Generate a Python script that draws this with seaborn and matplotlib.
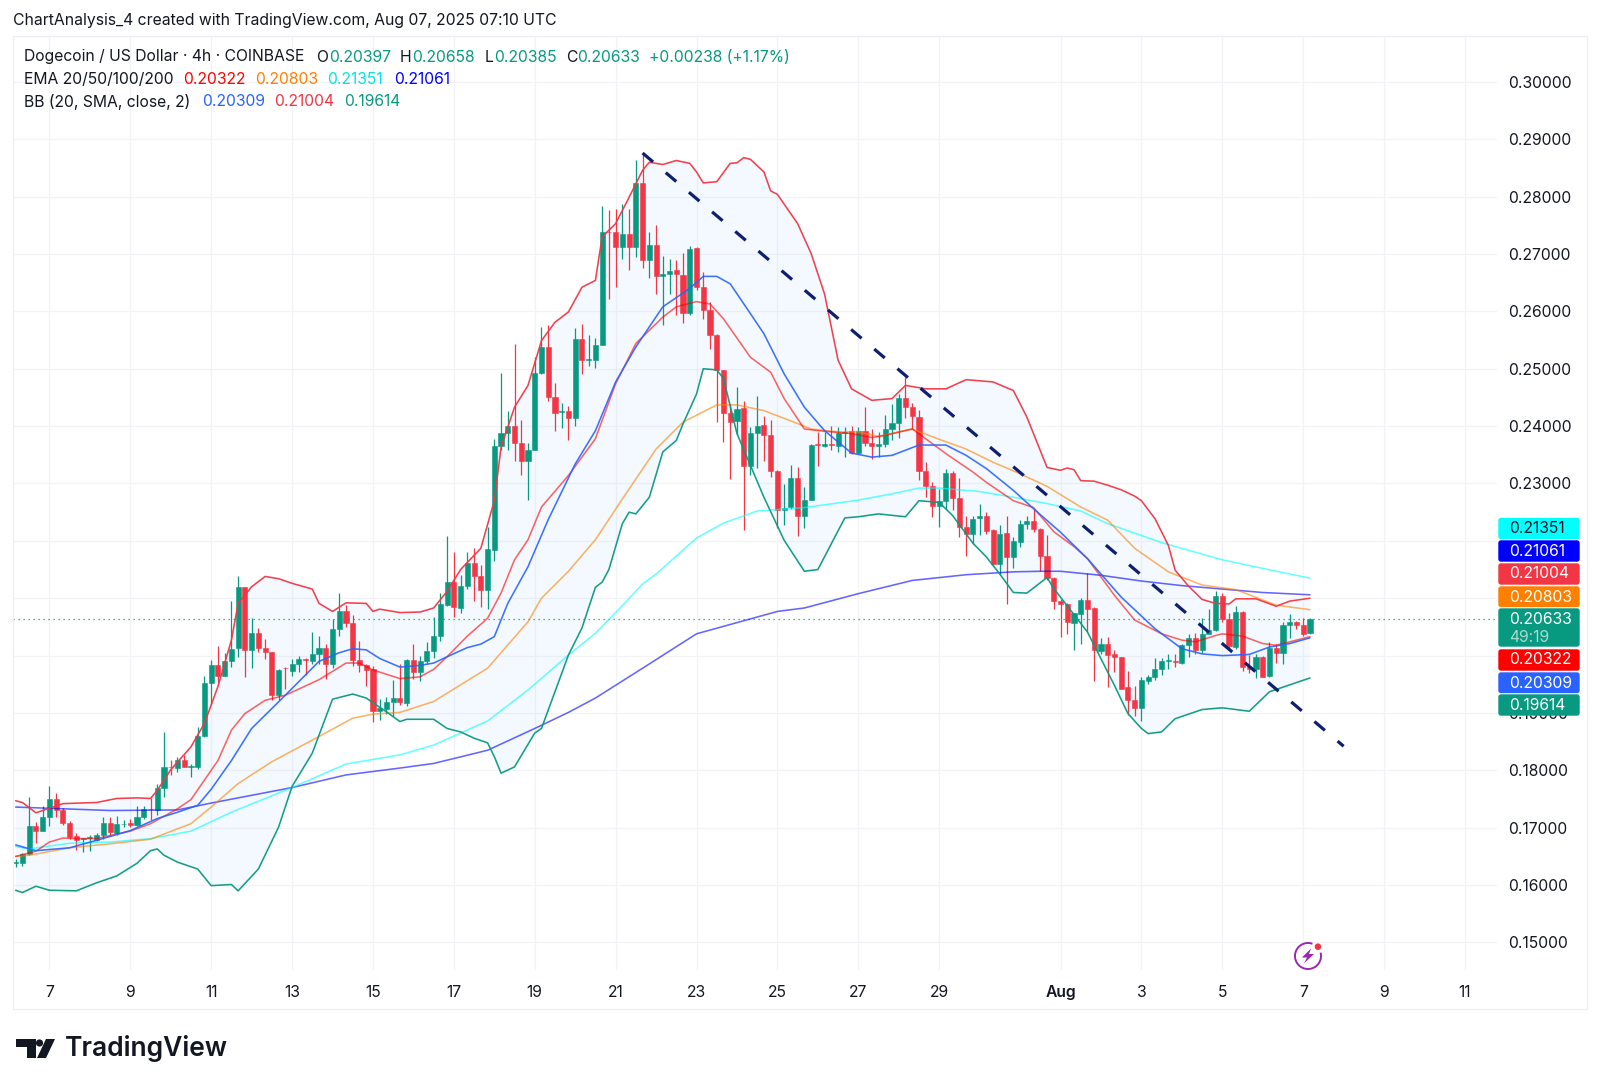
import matplotlib
matplotlib.use('Agg')
import matplotlib.pyplot as plt
from matplotlib.patches import Rectangle, FancyBboxPatch, Circle, Arc, Polygon
import numpy as np
import pandas as pd
import seaborn as sns

# 4h candles, Jul 6 2025 onward
opens = [
    .1638, .1638, .1655, .1703, .1695, .1719, .1750, .1731, .1709, .1685,
    .1680, .1682, .1679, .1687, .1709, .1691, .1706, .1708, .1704, .1719,
    .1733, .1731, .1770, .1806, .1804, .1818, .1806, .1805, .1859, .1952,
    .1984, .1965, .1991, .2013, .2119, .2010, .2039, .2013, .2006, .1931,
    .1979, .1974, .1986, .1994, .1990, .2002, .2013, .1985, .2047, .2078,
    .2056, .1992, .1984, .1976, .1903, .1907, .1920, .1926, .1918, .1992,
    .1971, .1991, .2008, .2034, .2088, .2129, .2083, .2122, .2161, .2139,
    .2115, .2184, .2365, .2388, .2401, .2370, .2340, .2358, .2493, .2538,
    .2450, .2424, .2427, .2414, .2552, .2515, .2516, .2542, .2739, .2738,
    .2712, .2735, .2712, .2823, .2689, .2715, .2662, .2666, .2672, .2664,
    .2597, .2710, .2642, .2602, .2558, .2497, .2423, .2409, .2431, .2330,
    .2388, .2402, .2384, .2321, .2253, .2259, .2310, .2243, .2272, .2368,
    .2366, .2369, .2365, .2388, .2391, .2353, .2392, .2370, .2365, .2368,
    .2395, .2406, .2449, .2433, .2416, .2321, .2295, .2260, .2270, .2318,
    .2275, .2225, .2212, .2240, .2243, .2219, .2159, .2214, .2172, .2198,
    .2229, .2235, .2221, .2174, .2135, .2096, .2090, .2057, .2073, .2097,
    .2083, .2008, .2021, .2002, .1997, .1945, .1922, .1909, .1956, .1963,
    .1977, .1990, .1991, .1987, .2018, .2031, .2009, .2037, .2044, .2104,
    .2063, .2015, .2076, .1981, .1976, .1998, .1964, .2013, .2005, .2053,
    .2059, .2053, .20397]
closes = [
    .1641, .1655, .1703, .1695, .1719, .1750, .1731, .1709, .1683, .1679,
    .1682, .1684, .1688, .1709, .1692, .1706, .1707, .1704, .1719, .1732,
    .1732, .1770, .1805, .1805, .1818, .1805, .1808, .1859, .1952, .1984,
    .1965, .1991, .2012, .2119, .2010, .2039, .2013, .2006, .1931, .1975,
    .1978, .1986, .1994, .1992, .2002, .2013, .1985, .2047, .2078, .2056,
    .1992, .1984, .1975, .1903, .1908, .1919, .1926, .1919, .1992, .1972,
    .1991, .2008, .2034, .2090, .2128, .2084, .2122, .2162, .2139, .2115,
    .2186, .2365, .2388, .2401, .2370, .2340, .2358, .2493, .2538, .2450,
    .2423, .2427, .2414, .2552, .2515, .2517, .2541, .2738, .2738, .2712,
    .2735, .2712, .2824, .2689, .2715, .2662, .2665, .2670, .2665, .2597,
    .2709, .2642, .2602, .2558, .2497, .2423, .2407, .2430, .2330, .2388,
    .2401, .2384, .2321, .2253, .2257, .2310, .2243, .2272, .2367, .2367,
    .2369, .2367, .2388, .2390, .2353, .2392, .2370, .2365, .2369, .2395,
    .2406, .2449, .2433, .2417, .2321, .2295, .2260, .2270, .2318, .2275,
    .2225, .2212, .2238, .2243, .2218, .2159, .2212, .2172, .2199, .2230,
    .2235, .2221, .2174, .2135, .2096, .2090, .2059, .2074, .2097, .2082,
    .2009, .2021, .2001, .1997, .1942, .1922, .1909, .1957, .1963, .1977,
    .1990, .1992, .1989, .2018, .2031, .2009, .2038, .2045, .2104, .2063,
    .2017, .2076, .1981, .1977, .1998, .1963, .2013, .2005, .2053, .2058,
    .2053, .2038, .20633]
highs = [
    .1645, .1656, .1753, .1710, .1738, .1772, .1760, .1734, .1711, .1690,
    .1682, .1687, .1690, .1719, .1719, .1720, .1713, .1716, .1737, .1738,
    .1751, .1777, .1866, .1818, .1824, .1827, .1811, .1875, .1965, .1992,
    .2016, .2005, .2095, .2138, .2120, .2066, .2048, .2029, .2007, .1976,
    .1980, .1994, .1999, .1995, .2042, .2035, .2020, .2064, .2109, .2088,
    .2071, .2026, .1985, .1982, .1924, .1927, .1957, .1985, .1994, .2021,
    .2000, .2023, .2068, .2109, .2208, .2181, .2141, .2180, .2187, .2158,
    .2225, .2378, .2492, .2426, .2544, .2410, .2370, .2520, .2573, .2576,
    .2475, .2440, .2435, .2571, .2578, .2558, .2554, .2783, .2776, .2779,
    .2787, .2779, .2863, .2876, .2738, .2751, .2696, .2692, .2690, .2702,
    .2714, .2712, .2669, .2616, .2560, .2497, .2439, .2468, .2443, .2398,
    .2452, .2417, .2410, .2323, .2299, .2333, .2328, .2294, .2369, .2390,
    .2390, .2401, .2398, .2398, .2401, .2399, .2434, .2395, .2390, .2419,
    .2438, .2456, .2485, .2441, .2428, .2338, .2302, .2291, .2326, .2322,
    .2310, .2244, .2244, .2265, .2251, .2220, .2228, .2244, .2206, .2237,
    .2244, .2256, .2222, .2211, .2137, .2099, .2091, .2074, .2101, .2144,
    .2085, .2030, .2033, .2009, .1998, .1973, .1947, .1963, .1967, .1995,
    .1995, .2002, .2003, .2020, .2037, .2040, .2065, .2082, .2113, .2109,
    .2074, .2087, .2077, .2001, .2002, .1999, .2024, .2021, .2059, .2072,
    .2061, .2066, .20658]
lows = [
    .1632, .1633, .1652, .1674, .1694, .1703, .1719, .1705, .1681, .1662,
    .1658, .1660, .1676, .1681, .1685, .1687, .1701, .1701, .1703, .1716,
    .1713, .1722, .1753, .1792, .1797, .1805, .1789, .1803, .1858, .1914,
    .1950, .1965, .1981, .1997, .1962, .1979, .2007, .1994, .1923, .1923,
    .1942, .1965, .1972, .1966, .1985, .1985, .1960, .1978, .2034, .2049,
    .1982, .1972, .1947, .1885, .1887, .1899, .1895, .1914, .1913, .1960,
    .1956, .1985, .1995, .2026, .2087, .2067, .2075, .2116, .2095, .2084,
    .2081, .2165, .2358, .2359, .2340, .2315, .2272, .2358, .2491, .2444,
    .2392, .2397, .2376, .2401, .2491, .2504, .2502, .2541, .2622, .2642,
    .2692, .2673, .2694, .2676, .2658, .2630, .2576, .2631, .2593, .2580,
    .2593, .2637, .2587, .2535, .2407, .2372, .2308, .2387, .2219, .2314,
    .2327, .2340, .2311, .2223, .2227, .2256, .2208, .2222, .2272, .2330,
    .2363, .2358, .2355, .2346, .2352, .2352, .2365, .2343, .2347, .2363,
    .2376, .2380, .2415, .2395, .2306, .2276, .2242, .2224, .2256, .2253,
    .2206, .2173, .2194, .2211, .2212, .2157, .2142, .2090, .2153, .2190,
    .2221, .2215, .2147, .2131, .2081, .2033, .2038, .2009, .2020, .2041,
    .1956, .2002, .1945, .1972, .1941, .1896, .1894, .1886, .1951, .1957,
    .1967, .1977, .1980, .1985, .1998, .2003, .2004, .2037, .2043, .2059,
    .2012, .2012, .1973, .1970, .1961, .1962, .1963, .1987, .1986, .2031,
    .2046, .2035, .20385]

# indicator lines, read at the candle numbers given in the *_x lists
ema200_x = [0, 14, 24, 29, 41, 49, 57, 62, 70, 77, 82, 86, 93, 101, 113, 117, 125, 133, 141, 148,
            152, 155, 161, 167, 173, 179, 185, 192]
ema200 = [.1736, .1730, .1731, .1743, .1770, .1792, .1804, .1812, .1835, .1873, .1901, .1926, .1978, .2038, .2077,
          .2083, .2108, .2131, .2141, .2146, .2147, .2147, .2140, .2130, .2122, .2116, .2110, .2106]
ema100_x = [0, 2, 8, 14, 20, 26, 32, 41, 49, 57, 62, 70, 76, 82, 86, 90, 93, 95, 101, 105,
            110, 117, 125, 130, 134, 137, 143, 148, 153, 158, 162, 170, 179, 185, 192]
ema100 = [.1667, .1663, .1673, .1675, .1681, .1694, .1727, .1770, .1811, .1827, .1844, .1886, .1940, .2001, .2039,
          .2087, .2125, .2142, .2205, .2231, .2252, .2258, .2271, .2282, .2292, .2292, .2286, .2276, .2265, .2252,
          .2230, .2197, .2167, .2152, .2135]
ema50_x = [0, 2, 8, 14, 20, 26, 29, 33, 38, 45, 50, 53, 57, 62, 70, 76, 78, 82, 86, 90,
           95, 99, 104, 107, 111, 115, 118, 122, 125, 128, 131, 133, 137, 141, 145, 149, 153, 158, 162, 166,
           171, 176, 181, 187, 192]
ema50 = [.1650, .1652, .1665, .1672, .1680, .1707, .1736, .1777, .1815, .1859, .1891, .1898, .1901, .1920, .1978,
         .2059, .2100, .2147, .2202, .2273, .2360, .2407, .2437, .2437, .2427, .2409, .2395, .2390, .2390, .2382,
         .2390, .2395, .2377, .2360, .2337, .2317, .2295, .2259, .2236, .2187, .2146, .2123, .2115, .2088, .2080]
ema20_x = [0, 3, 5, 7, 9, 12, 17, 20, 24, 26, 28, 30, 32, 34, 37, 40, 45, 49, 51, 53,
           57, 60, 62, 64, 67, 70, 72, 74, 76, 78, 82, 86, 89, 92, 96, 98, 101, 103, 105, 109,
           112, 114, 117, 120, 124, 127, 129, 133, 135, 138, 142, 144, 148, 151, 154, 157, 159, 163, 166, 170,
           173, 175, 178, 179, 182, 185, 187, 192]
ema20 = [.1650, .1659, .1675, .1682, .1681, .1681, .1694, .1707, .1733, .1749, .1783, .1817, .1870, .1899, .1922,
         .1931, .1958, .1987, .1987, .1975, .1960, .1963, .1976, .1998, .2034, .2065, .2109, .2167, .2202, .2259,
         .2314, .2378, .2474, .2544, .2590, .2608, .2617, .2613, .2587, .2520, .2494, .2448, .2395, .2391, .2387,
         .2380, .2384, .2395, .2378, .2352, .2320, .2302, .2270, .2258, .2216, .2190, .2169, .2105, .2062, .2038,
         .2027, .2024, .2035, .2038, .2034, .2021, .2018, .2033]
bb_mid_x = [0, 3, 8, 12, 17, 21, 24, 27, 29, 32, 35, 40, 45, 48, 50, 52, 54, 57, 60, 62,
            64, 67, 69, 71, 73, 76, 79, 83, 86, 89, 92, 96, 100, 102, 104, 106, 109, 111, 114, 117,
            120, 124, 127, 130, 134, 138, 141, 144, 148, 151, 155, 159, 164, 169, 173, 176, 179, 183, 186, 189, 192]
bb_mid = [.1670, .1660, .1665, .1678, .1695, .1716, .1727, .1739, .1767, .1817, .1873, .1931, .1990, .2005, .2012,
          .2010, .1995, .1980, .1983, .1987, .1998, .2014, .2020, .2033, .2091, .2155, .2237, .2334, .2392, .2477,
          .2538, .2608, .2640, .2661, .2661, .2648, .2596, .2561, .2491, .2433, .2392, .2353, .2346, .2349, .2367,
          .2367, .2349, .2326, .2288, .2256, .2215, .2169, .2102, .2047, .2012, .2003, .2000, .2002, .2015, .2021, .2031]
bb_up_x = [0, 1, 3, 4, 7, 12, 15, 18, 20, 21, 22, 23, 26, 28, 30, 32, 33, 35, 37, 39,
           41, 44, 45, 47, 49, 52, 53, 54, 57, 60, 62, 64, 66, 69, 71, 72, 74, 76, 78, 80,
           82, 84, 86, 87, 89, 91, 93, 94, 96, 98, 100, 101, 102, 104, 106, 107, 108, 109, 111, 112,
           113, 116, 118, 120, 122, 124, 127, 130, 132, 135, 138, 141, 145, 148, 150, 153, 155, 156, 157, 158,
           160, 162, 164, 166, 167, 169, 171, 172, 174, 176, 178, 180, 181, 184, 187, 189, 192]
bb_up = [.1747, .1744, .1726, .1730, .1742, .1744, .1751, .1752, .1751, .1765, .1783, .1801, .1841, .1882, .1946,
         .2027, .2091, .2120, .2138, .2134, .2126, .2116, .2091, .2077, .2092, .2091, .2077, .2081, .2075, .2076,
         .2083, .2112, .2150, .2187, .2270, .2363, .2433, .2471, .2549, .2581, .2599, .2642, .2654, .2730, .2753,
         .2799, .2846, .2860, .2856, .2863, .2858, .2843, .2824, .2826, .2858, .2859, .2868, .2865, .2843, .2810,
         .2804, .2753, .2701, .2630, .2515, .2465, .2445, .2448, .2471, .2465, .2465, .2481, .2477, .2462, .2416,
         .2328, .2323, .2327, .2324, .2305, .2304, .2297, .2289, .2278, .2270, .2239, .2192, .2149, .2121, .2098,
         .2091, .2090, .2099, .2099, .2086, .2095, .2100]
bb_lo_x = [0, 1, 3, 5, 9, 12, 15, 18, 20, 21, 22, 24, 27, 29, 32, 33, 36, 39, 41, 44,
           47, 50, 52, 55, 57, 58, 62, 64, 66, 68, 70, 71, 72, 74, 77, 78, 82, 84, 86, 87,
           88, 90, 91, 92, 94, 96, 98, 99, 101, 102, 104, 105, 107, 111, 114, 117, 119, 123, 125, 128,
           132, 134, 137, 139, 142, 144, 146, 148, 150, 153, 154, 159, 163, 165, 167, 168, 170, 172, 176, 179,
           183, 186, 188, 192]
bb_lo = [.1591, .1587, .1598, .1591, .1590, .1604, .1616, .1638, .1660, .1663, .1652, .1640, .1628, .1599, .1601,
         .1590, .1628, .1701, .1772, .1830, .1924, .1933, .1926, .1902, .1885, .1889, .1889, .1873, .1867, .1856,
         .1848, .1824, .1795, .1806, .1865, .1873, .2001, .2048, .2119, .2128, .2150, .2230, .2250, .2247, .2276,
         .2355, .2375, .2404, .2456, .2500, .2498, .2483, .2387, .2276, .2201, .2147, .2150, .2240, .2242, .2247,
         .2242, .2270, .2267, .2244, .2196, .2172, .2142, .2110, .2109, .2136, .2117, .2041, .1948, .1899, .1873,
         .1864, .1867, .1890, .1906, .1909, .1903, .1937, .1945, .1961]

trend_x = [93, 197]
trend_y = [.2876, .1842]
last_price = .20633

price_ticks = [.15, .16, .17, .18, .19, .20, .21, .22, .23, .24, .25, .26, .27, .28, .29, .30]
# the price tags sit over these levels, so their labels stay hidden
hidden_ticks = [.20, .21, .22]
date_ticks = [5, 17, 29, 41, 53, 65, 77, 89, 101, 113, 125, 137, 155, 167, 179, 191, 203, 215]
date_labels = ['7', '9', '11', '13', '15', '17', '19', '21', '23', '25', '27', '29', 'Aug', '3', '5', '7', '9', '11']

caption = 'ChartAnalysis_4 created with TradingView.com, Aug 07, 2025 07:10 UTC'
badge_values = ['0.21351', '0.21061', '0.21004', '0.20803', '0.20633', '0.20322', '0.20309', '0.19614']

INK = '#131722'
UP = '#089981'
DOWN = '#f23645'
GRID = '#f2f3f7'

sns.set_theme(style='white')
plt.rcParams['font.family'] = ['Inter', 'DejaVu Sans']

df = pd.DataFrame({'open': opens, 'high': highs, 'low': lows, 'close': closes})
df['n'] = df.index
df['color'] = np.where(df['close'] >= df['open'], UP, DOWN)

fig = plt.figure(figsize=(16, 10.89), dpi=100, facecolor='white')
# pane runs 13..1497 px across and 36..970 px down
ax = fig.add_axes([13 / 1600, 1 - 970 / 1089, (1497 - 13) / 1600, (970 - 36) / 1089])

ax.fill(bb_up_x + bb_lo_x[::-1], bb_up + bb_lo[::-1], color='#2196f3', alpha=0.05, lw=0, zorder=1)

ax.vlines(df['n'], df['low'], df['high'], colors=df['color'], lw=0.9, zorder=3)
ax.bar(df['n'], (df['close'] - df['open']).abs(), bottom=df[['open', 'close']].min(axis=1), width=0.76,
       color=df['color'], edgecolor=df['color'], lw=0.4, zorder=3)

line_specs = [
    (ema200_x, ema200, '#0000ff', 0.6),
    (ema100_x, ema100, '#00ffff', 0.6),
    (ema50_x, ema50, '#ff8000', 0.6),
    (ema20_x, ema20, '#ff0000', 0.6),
    (bb_mid_x, bb_mid, '#2962ff', 0.9),
    (bb_up_x, bb_up, DOWN, 0.95),
    (bb_lo_x, bb_lo, UP, 0.95),
]
for xs, ys, col, alpha in line_specs:
    sns.lineplot(x=xs, y=ys, ax=ax, color=col, alpha=alpha, lw=1.15, estimator=None, sort=False,
                 legend=False, zorder=4)

ax.plot(trend_x, trend_y, color='#0f1f6f', lw=2.3, linestyle=(0, (4.3, 5.2)), zorder=5)
ax.axhline(last_price, color=UP, lw=0.9, linestyle=(0, (1, 3)), zorder=2)

ax.set_xlim(-0.4, 219.75)
ax.set_ylim(.1452, .3080)
ax.yaxis.tick_right()
ax.set_yticks(price_ticks)
ax.set_yticklabels(['' if t in hidden_ticks else f'{t:.5f}' for t in price_ticks])
ax.set_xticks(date_ticks)
ax.set_xticklabels(date_labels)
ax.tick_params(axis='y', length=0, pad=8, labelsize=11.3, labelcolor=INK)
ax.tick_params(axis='x', length=0, pad=11, labelsize=11.3, labelcolor=INK)
ax.get_xticklabels()[date_labels.index('Aug')].set_fontweight('semibold')
ax.grid(True, color=GRID, lw=0.9, zorder=0)
ax.set_axisbelow(True)
sns.despine(ax=ax, left=True, bottom=True, right=True, top=True)

# everything outside the pane goes on a pixel-sized overlay
ov = fig.add_axes([0, 0, 1, 1], zorder=10)
ov.set_xlim(0, 1600)
ov.set_ylim(1089, 0)
ov.axis('off')
ov.patch.set_alpha(0)
ov.add_patch(Rectangle((13, 36), 1574, 973, fill=False, ec='#eceef3', lw=0.9))

ov.text(13, 21, caption, fontsize=11.35, color=INK, va='center', ha='left')

header_rows = [
    (57, [(24, 'Dogecoin / US Dollar · 4h · COINBASE', INK), (316, 'O', INK), (329, '0.20397', UP),
          (400, 'H', INK), (412, '0.20658', UP), (485, 'L', INK), (494, '0.20385', UP),
          (566, 'C', INK), (577, '0.20633', UP), (649, '+0.00238 (+1.17%)', UP)]),
    (79.5, [(24, 'EMA 20/50/100/200', INK), (183, '0.20322', '#ff0000'), (255, '0.20803', '#ff8000'),
            (327, '0.21351', '#00e5e5'), (394, '0.21061', '#0000ff')]),
    (102, [(24, 'BB (20, SMA, close, 2)', INK), (202, '0.20309', '#2962ff'), (274, '0.21004', DOWN),
           (344, '0.19614', UP)]),
]
for y, parts in header_rows:
    for x, txt, col in parts:
        ov.text(x, y, txt, fontsize=11.3, color=col, va='center', ha='left')

badge_spec = [
    (517.5, 22, '#00ffff', INK), (540, 22, '#0000ff', 'white'), (563, 22, '#f23645', 'white'),
    (586, 21.5, '#ff8000', 'white'), (608, 39, UP, 'white'), (649, 22, '#ff0000', 'white'),
    (672, 21.5, '#2962ff', 'white'), (694, 22, UP, 'white'),
]
for val, (top, h, bg, fg) in zip(badge_values, badge_spec):
    ov.add_patch(FancyBboxPatch((1499, top + 1), 80, h - 2, boxstyle='round,pad=0,rounding_size=2',
                                fc=bg, ec=bg, lw=1))
    ov.text(1509, top + 11, val, fontsize=11.3, color=fg, va='center', ha='left')
ov.text(1509, 637, '49:19', fontsize=11.3, color='#a5ddd0', va='center', ha='left')

# TradingView logo
logo = '#131722'
ov.add_patch(Polygon([(16, 1039), (36, 1039), (36, 1058), (27, 1058), (27, 1047), (16, 1047)], fc=logo, ec='none'))
ov.add_patch(Circle((39.5, 1043), 3.6, fc=logo, ec='none'))
ov.add_patch(Polygon([(46, 1039), (55, 1039), (46, 1058), (37, 1058)], fc=logo, ec='none'))
ov.text(64.5, 1049, 'TradingView', fontsize=19, fontweight='semibold', color=logo, va='center', ha='left')

# lightning badge
purple = '#9c27b0'
ov.add_patch(Arc((1308, 956), 26, 26, theta1=-15, theta2=290, ec=purple, lw=1.4))
ov.add_patch(Polygon([(1311, 948.5), (1302, 957.5), (1307, 957.5), (1304, 963.5), (1314, 954), (1309, 954)],
                     fc=purple, ec='none'))
ov.add_patch(Circle((1318, 946.7), 3.3, fc='#f23645', ec='none'))

fig.savefig('out.png', dpi=100)
